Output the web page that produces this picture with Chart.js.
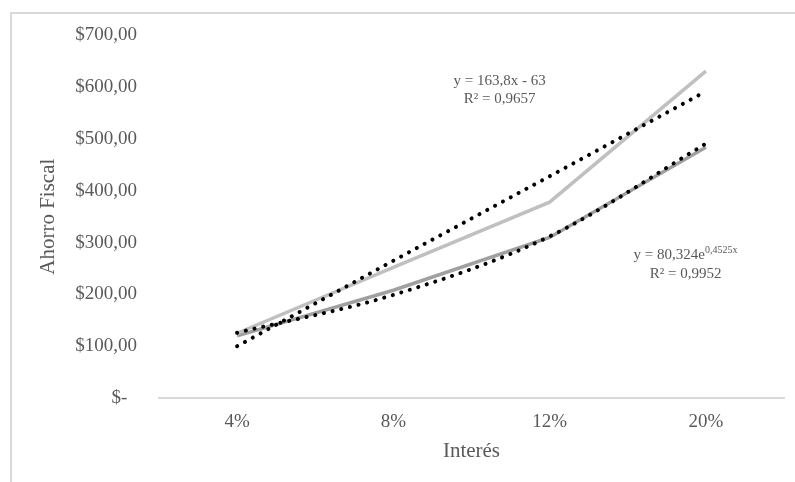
<!DOCTYPE html>
<html>
<head>
<meta charset="utf-8">
<script src="https://cdn.jsdelivr.net/npm/chart.js@4/dist/chart.umd.min.js"></script>
<style>
  html, body { margin: 0; padding: 0; background: #fff; overflow: hidden; }
  #frame { position: absolute; left: 10px; top: 12px; width: 820px; height: 500px; border: 2px solid #d9d9d9; background: #fff; }
  #chart { position: absolute; left: 0; top: -12px; }
</style>
</head>
<body>
<div id="frame"><canvas id="chart" width="783" height="480"></canvas></div>
<script>
// data
const categories = ['4%', '8%', '12%', '20%'];
const serieClara = [125, 252, 378, 631];
const serieOscura = [120, 208, 310, 484];
const tendenciaLineal = [100, 265, 428, 592];
const tendenciaExp = [126, 199, 312, 491];
const yTicks = [0, 100, 200, 300, 400, 500, 600, 700];

const textGray = '#595959';
const serif = "'Liberation Serif', 'DejaVu Serif', serif";

// trendline equations drawn as text, anchored to the scales
const eqLabels = {
  id: 'eqLabels',
  afterDatasetsDraw(chart) {
    const ctx = chart.ctx;
    const x = chart.scales.x, y = chart.scales.y;
    ctx.save();
    ctx.fillStyle = textGray;
    ctx.textBaseline = 'middle';
    ctx.textAlign = 'center';
    ctx.font = '15px ' + serif;
    let px = x.getPixelForValue(1.68);
    ctx.fillText('y = 163,8x - 63', px, y.getPixelForValue(611));
    ctx.fillText('R² = 0,9657', px, y.getPixelForValue(577));

    px = x.getPixelForValue(2.87);
    const base = 'y = 80,324e', sup = '0,4525x';
    ctx.font = '15px ' + serif;
    const w1 = ctx.measureText(base).width;
    ctx.font = '10px ' + serif;
    const w2 = ctx.measureText(sup).width;
    const start = px - (w1 + w2) / 2;
    const py = y.getPixelForValue(275);
    ctx.textAlign = 'left';
    ctx.font = '15px ' + serif;
    ctx.fillText(base, start, py);
    ctx.font = '10px ' + serif;
    ctx.fillText(sup, start + w1, py - 5);
    ctx.textAlign = 'center';
    ctx.font = '15px ' + serif;
    ctx.fillText('R² = 0,9952', px, y.getPixelForValue(240));
    ctx.restore();
  }
};

const ctx = document.getElementById('chart').getContext('2d');
new Chart(ctx, {
  type: 'line',
  data: {
    labels: categories,
    datasets: [
      {
        label: 'Serie 1',
        data: serieClara,
        borderColor: '#c0c0c0',
        borderWidth: 3.5,
        pointRadius: 0,
        tension: 0,
        order: 1
      },
      {
        label: 'Serie 2',
        data: serieOscura,
        borderColor: '#a0a0a0',
        borderWidth: 3.5,
        pointRadius: 0,
        tension: 0,
        order: 1
      },
      {
        label: 'Lineal',
        data: tendenciaLineal,
        borderColor: '#000',
        borderWidth: 4,
        borderDash: [0.1, 8.8],
        borderCapStyle: 'round',
        pointRadius: 0,
        tension: 0,
        order: 0
      },
      {
        label: 'Exponencial',
        data: tendenciaExp,
        borderColor: '#000',
        borderWidth: 4,
        borderDash: [0.1, 8.8],
        borderCapStyle: 'round',
        pointRadius: 0,
        cubicInterpolationMode: 'monotone',
        order: 0
      }
    ]
  },
  options: {
    responsive: false,
    animation: false,
    layout: { padding: { left: 24, right: 11, top: 8, bottom: 18 } },
    plugins: {
      legend: { display: false },
      tooltip: { enabled: false }
    },
    scales: {
      x: {
        offset: true,
        grid: { display: false, drawTicks: false },
        border: { display: true, color: '#d9d9d9', width: 2 },
        ticks: { color: textGray, font: { family: serif, size: 19 }, padding: 13 },
        title: { display: true, text: 'Interés', color: textGray, font: { family: serif, size: 21 }, padding: { top: -8, bottom: 0 } }
      },
      y: {
        min: 0,
        max: 700,
        afterBuildTicks: (axis) => { axis.ticks = yTicks.map(v => ({ value: v })); },
        grid: { display: false, drawTicks: false },
        border: { display: false },
        ticks: {
          color: textGray,
          font: { family: serif, size: 19 },
          padding: 22,
          callback: (v) => v === 0 ? '$-\u2007' : '$' + v + ',00'
        },
        title: { display: true, text: 'Ahorro Fiscal', color: textGray, font: { family: serif, size: 21 }, padding: { top: 0, bottom: -8 } }
      }
    }
  },
  plugins: [eqLabels]
});
</script>
</body>
</html>
